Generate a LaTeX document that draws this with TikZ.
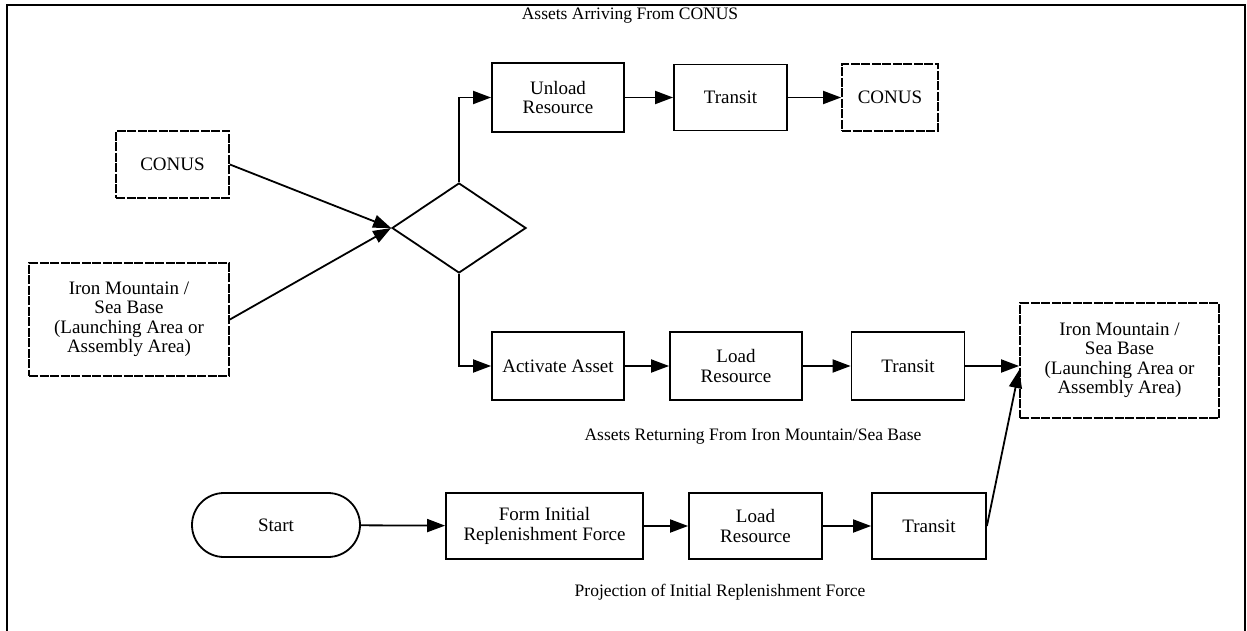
\documentclass[tikz,border=0pt]{standalone}
\usepackage{fontspec}
\setmainfont{Liberation Serif}
\usetikzlibrary{shapes.geometric,arrows.meta,calc}
\begin{document}
\begin{tikzpicture}[x=1pt,y=-1pt,
  every node/.style={font=\fontsize{19}{19.5}\selectfont, align=center, inner sep=0pt},
  box/.style={draw, line width=1.8pt, minimum width=#1},
  box/.default=113,
  dbox/.style={box=#1, dash pattern=on 9pt off 1.5pt},
  dbox/.default=113,
  flow/.style={line width=1.8pt, -{Triangle[length=18pt,width=13pt]}},
  caption/.style={font=\fontsize{17.5}{18}\selectfont}]
\useasboundingbox (0,0) rectangle (1247,631);
% outer frame (open at the bottom)
\draw[line width=2pt] (7,640) -- (7,5) -- (1245,5) -- (1245,640);

% captions
\node[caption] (cap1) at (630,16) {Assets Arriving From CONUS};
\node[caption] (cap2) at (753,437) {Assets Returning From Iron Mountain/Sea Base};
\node[caption] (cap3) at (720,592) {Projection of Initial Replenishment Force};

% sources on the left
\node[dbox=113, minimum height=67] (lconus) at (172.5,164.5) {CONUS};
\node[dbox=200, minimum height=113] (lim) at (129,319.5) {Iron Mountain /\\Sea Base\\(Launching Area or\\Assembly Area)};

% decision
\node[draw, line width=1.8pt, shape=diamond, minimum width=134, minimum height=90] (dia) at (459,228) {};

% upper row
\node[box=132, minimum height=69] (uload) at (558,97.5) {Unload\\Resource};
\node[box=113, minimum height=66] (utran) at (730.5,97.5) {Transit};
\node[dbox=96, minimum height=67] (uconus) at (890,97.5) {CONUS};

% middle row
\node[box=132, minimum height=68] (act) at (558,366) {Activate Asset};
\node[box=132, minimum height=68] (mload) at (736,366) {Load\\Resource};
\node[box=113, minimum height=68] (mtran) at (908,366) {Transit};
\node[dbox=199, minimum height=115] (rim) at (1119.5,360.5) {Iron Mountain /\\Sea Base\\(Launching Area or\\Assembly Area)};

% lower row
\node[draw, line width=1.8pt, minimum width=168, minimum height=64, rounded corners=32] (start) at (276,525) {Start};
\node[box=197, minimum height=66] (form) at (544.5,526) {Form Initial\\Replenishment Force};
\node[box=133, minimum height=66] (bload) at (755.5,526) {Load\\Resource};
\node[box=114, minimum height=66] (btran) at (929,526) {Transit};
\coordinate (rimin) at ($(rim.west)+(0,9.5)$);

% connectors
\draw[flow] (lconus.east) -- (dia.west);
\draw[flow] (lim.east) -- (dia.west);
\draw[flow] (dia.north) |- (uload.west);
\draw[flow] (uload) -- (utran);
\draw[flow] (utran) -- (uconus);
\draw[flow] (dia.south) |- (act.west);
\draw[flow] (act) -- (mload);
\draw[flow] (mload) -- (mtran);
\draw[flow] (mtran.east) -- (mtran.east -| rim.west);
\draw[flow] (start) -- (form);
\draw[flow] (form) -- (bload);
\draw[flow] (bload) -- (btran);
\draw[flow] (btran.east) -- (rimin);
\end{tikzpicture}
\end{document}
